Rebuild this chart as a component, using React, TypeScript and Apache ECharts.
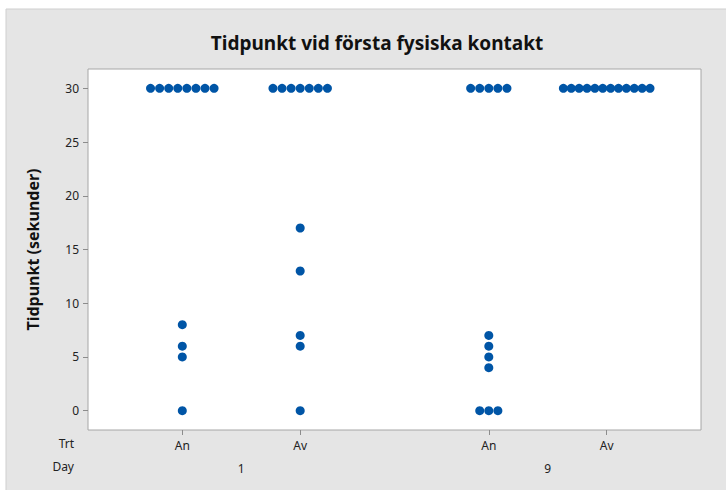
import React, { useEffect, useRef } from "react";
import * as echarts from "echarts";

const titleText = "Tidpunkt vid första fysiska kontakt";
const yAxisTitle = "Tidpunkt (sekunder)";
const trtLabels = ["An", "Av", "An", "Av"];
const dayLabels = ["1", "9"];
const yTicks = [0, 5, 10, 15, 20, 25, 30];

// values per group (seconds)
const day1An = [30, 30, 30, 30, 30, 30, 30, 30, 8, 6, 5, 0];
const day1Av = [30, 30, 30, 30, 30, 30, 30, 17, 13, 7, 6, 0];
const day9An = [30, 30, 30, 30, 30, 7, 6, 5, 4, 0, 0, 0];
const day9Av = [30, 30, 30, 30, 30, 30, 30, 30, 30, 30, 30, 30];

const groups = [day1An, day1Av, day9An, day9Av];
const groupDay = [0, 0, 1, 1];

// axis positions: within a day step 1, between days extra gap
const DAY_GAP = 0.6;
const positions = groups.map((_, i) => 1 + i + groupDay[i] * DAY_GAP);
const dayCenters = dayLabels.map((_, d) => {
  const ps = positions.filter((_, i) => groupDay[i] === d);
  return (ps[0] + ps[ps.length - 1]) / 2;
});

function spread(values: number[], center: number): [number, number][] {
  const counts: Record<string, number> = {};
  values.forEach((v) => (counts[v] = (counts[v] || 0) + 1));
  const seen: Record<string, number> = {};
  return values.map((v) => {
    const n = counts[v];
    const k = seen[v] || 0;
    seen[v] = k + 1;
    const step = n > 1 ? Math.min(0.077, 0.735 / (n - 1)) : 0;
    return [center + (k - (n - 1) / 2) * step, v];
  });
}

export default function App() {
  const ref = useRef<HTMLDivElement>(null);
  useEffect(() => {
    if (!ref.current) return;
    const chart = echarts.init(ref.current, null, { renderer: "svg" });
    const font = "'Noto Sans', sans-serif";
    const xMin = 0.2;
    const xMax = 5.4;
    chart.setOption({
      animation: false,
      backgroundColor: "#ffffff",
      textStyle: { fontFamily: font },
      graphic: [
        {
          type: "rect",
          z: -10,
          silent: true,
          shape: { x: 6, y: 9, width: 722, height: 483 },
          style: { fill: "#e5e5e5", stroke: "#cfcfcf", lineWidth: 1 },
        },
        {
          type: "text",
          x: 74,
          y: 437,
          style: { text: "Trt", fontSize: 12, fontFamily: font, fill: "#222", align: "right", textAlign: "right" },
        },
        {
          type: "text",
          x: 74,
          y: 460,
          style: { text: "Day", fontSize: 12, fontFamily: font, fill: "#222", align: "right", textAlign: "right" },
        },
      ],
      title: {
        text: titleText,
        left: 372,
        top: 28,
        textAlign: "center",
        textStyle: { fontSize: 19, fontWeight: "bold", color: "#111", fontFamily: font },
      },
      grid: {
        left: 88,
        top: 69,
        width: 613,
        height: 361,
        show: true,
        backgroundColor: "#ffffff",
        borderColor: "#a6a6a6",
        borderWidth: 1,
      },
      xAxis: [
        {
          type: "value",
          min: xMin,
          max: xMax,
          position: "bottom",
          splitLine: { show: false },
          axisLine: { show: false, onZero: false },
          axisTick: {
            show: true,
            customValues: positions,
            length: 5,
            lineStyle: { color: "#8c8c8c" },
          },
          axisLabel: {
            customValues: positions,
            formatter: (v: number) => {
              const i = positions.findIndex((p) => Math.abs(p - v) < 1e-6);
              return i >= 0 ? trtLabels[i] : "";
            },
            fontSize: 12,
            color: "#222",
            margin: 9,
            fontFamily: font,
          },
        },
        {
          type: "value",
          min: xMin,
          max: xMax,
          position: "bottom",
          offset: 23,
          splitLine: { show: false },
          axisLine: { show: false, onZero: false },
          axisTick: { show: false },
          axisLabel: {
            customValues: dayCenters,
            formatter: (v: number) => {
              const i = dayCenters.findIndex((p) => Math.abs(p - v) < 1e-6);
              return i >= 0 ? dayLabels[i] : "";
            },
            fontSize: 12,
            color: "#222",
            margin: 9,
            fontFamily: font,
          },
        },
      ],
      yAxis: {
        type: "value",
        min: -1.8,
        max: 31.8,
        name: yAxisTitle,
        nameLocation: "middle",
        nameRotate: 90,
        nameGap: 47,
        nameTextStyle: { fontSize: 16, fontWeight: "bold", color: "#111", fontFamily: font },
        splitLine: { show: false },
        axisLine: { show: false, onZero: false },
        axisTick: { show: true, customValues: yTicks, length: 5, lineStyle: { color: "#8c8c8c" } },
        axisLabel: {
          customValues: yTicks,
          fontSize: 12,
          color: "#222",
          margin: 9,
          fontFamily: font,
        },
      },
      series: groups.map((g, i) => ({
        type: "scatter",
        xAxisIndex: 0,
        symbol: "circle",
        symbolSize: 9,
        itemStyle: { color: "#0055a6", opacity: 1 },
        data: spread(g, positions[i]),
      })),
    });
    return () => chart.dispose();
  }, []);
  return (
    <div
      ref={ref}
      style={{ position: "fixed", left: 0, top: 0, width: 726, height: 490 }}
    />
  );
}
